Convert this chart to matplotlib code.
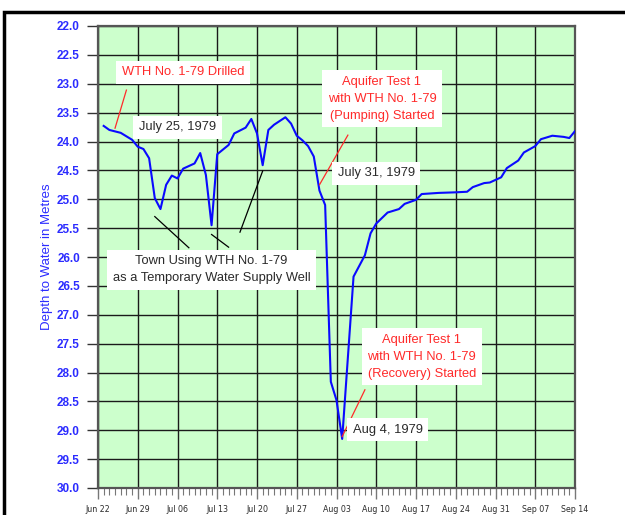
import datetime as dt

import matplotlib
matplotlib.use('Agg')
import matplotlib.pyplot as plt
import matplotlib.dates as mdates
from matplotlib.patches import Rectangle

# depth to water readings, days after Jun 22 1979
start = dt.date(1979, 6, 22)
day_offsets = [1, 2, 4, 6, 7, 8, 9, 10, 11, 12, 13, 14, 15, 17, 18, 19, 20, 21,
               23, 24, 26, 27, 28, 29, 30, 31, 33, 34, 35, 36, 37, 38, 39, 40,
               41, 42, 43, 45, 47, 48, 49, 51, 53, 54, 56, 57, 60, 63, 65, 66,
               68, 69, 71, 72, 74, 75, 77, 78, 80, 82, 83, 84]
depths = [23.73, 23.80, 23.85, 23.97, 24.09, 24.13, 24.29, 24.98, 25.17, 24.75,
          24.59, 24.64, 24.47, 24.38, 24.20, 24.58, 25.45, 24.22,
          24.06, 23.86, 23.76, 23.61, 23.86, 24.41, 23.80, 23.71, 23.58, 23.69,
          23.90, 23.98, 24.08, 24.26, 24.85, 25.10,
          28.16, 28.48, 29.15, 26.34, 25.97, 25.59, 25.42, 25.23, 25.17, 25.08,
          25.01, 24.91, 24.89, 24.88, 24.87, 24.79,
          24.72, 24.71, 24.62, 24.46, 24.33, 24.19, 24.08, 23.96, 23.90, 23.92,
          23.94, 23.82]
dates = [start + dt.timedelta(days=d) for d in day_offsets]

red = '#ff2a2a'
blue = '#2b2bff'
dark = '#2a2a2a'


def day(n):
    return start + dt.timedelta(days=n)


fig = plt.figure(figsize=(6.25, 5.15), dpi=100)
ax = fig.add_axes([98 / 625, 1 - 488 / 515, 477 / 625, 462 / 515])
ax.set_facecolor('#ccffcc')

ax.plot(dates, depths, color='#0a0aff', lw=1.5, zorder=3)

ax.set_xlim(day(0), day(84))
ax.set_ylim(30, 22)
ax.xaxis.set_major_locator(mdates.DayLocator(interval=7))
ax.xaxis.set_minor_locator(mdates.DayLocator())
ax.xaxis.set_major_formatter(mdates.DateFormatter('%b %d'))
ax.set_yticks([22 + 0.5 * i for i in range(17)])
ax.set_yticklabels(['%.1f' % (22 + 0.5 * i) for i in range(17)],
                   color=blue, fontsize=8.5, fontweight='bold',
                   family='Liberation Sans')
for t in ax.get_xticklabels():
    t.set_family('DejaVu Sans')
ax.tick_params(axis='x', which='major', length=8, width=1, colors='#777777',
               labelcolor=dark, labelsize=5.7, pad=4)
ax.tick_params(axis='x', which='minor', length=5, width=0.8, colors='#777777')
ax.tick_params(axis='y', length=8, width=1, colors='#333333', labelcolor=blue, pad=5)

ax.grid(True, which='major', color='#1a1a1a', lw=1.0)
ax.set_axisbelow(True)
for s in ax.spines.values():
    s.set_color('#555555')
    s.set_linewidth(1.6)

ax.set_ylabel('Depth to Water in Metres', color=blue, fontsize=9.5,
              family='Liberation Sans', labelpad=3)


def label(x, y, txt, color):
    ax.text(day(x), y, txt, color=color, fontsize=9.3, family='Liberation Sans',
            ha='center', va='center', linespacing=1.55, zorder=5,
            bbox=dict(facecolor='white', edgecolor='none', pad=4))


def leader(x0, y0, x1, y1, color):
    ax.plot([day(x0), day(x1)], [y0, y1], color=color, lw=0.9, zorder=4)


label(15.3, 22.80, 'WTH No. 1-79 Drilled', red)
leader(5.46, 23.11, 3.70, 23.77, red)
label(14.1, 23.75, 'July 25, 1979', dark)

label(20.4, 26.22, 'Town Using WTH No. 1-79\nas a Temporary Water Supply Well', dark)
leader(10.9, 25.30, 16.95, 25.84, 'black')
leader(20.0, 25.61, 23.0, 25.83, 'black')
leader(25.9, 25.57, 29.4, 24.51, 'black')

label(50.2, 23.26, 'Aquifer Test 1\nwith WTH No. 1-79\n(Pumping) Started', red)
leader(44.7, 23.89, 39.8, 24.75, red)
label(49.3, 24.55, 'July 31, 1979', dark)

label(57.2, 27.73, 'Aquifer Test 1\nwith WTH No. 1-79\n(Recovery) Started', red)
leader(47.9, 28.30, 43.8, 29.11, red)
label(51.7, 28.99, 'Aug 4, 1979', dark)

# outer frame, cut off at the right and bottom
fig.patches.append(Rectangle((4 / 625, -0.1), 1.2, 1.1 - 12 / 515,
                             transform=fig.transFigure, fill=False,
                             edgecolor='black', lw=2.5))

fig.savefig('out.png', dpi=100)
